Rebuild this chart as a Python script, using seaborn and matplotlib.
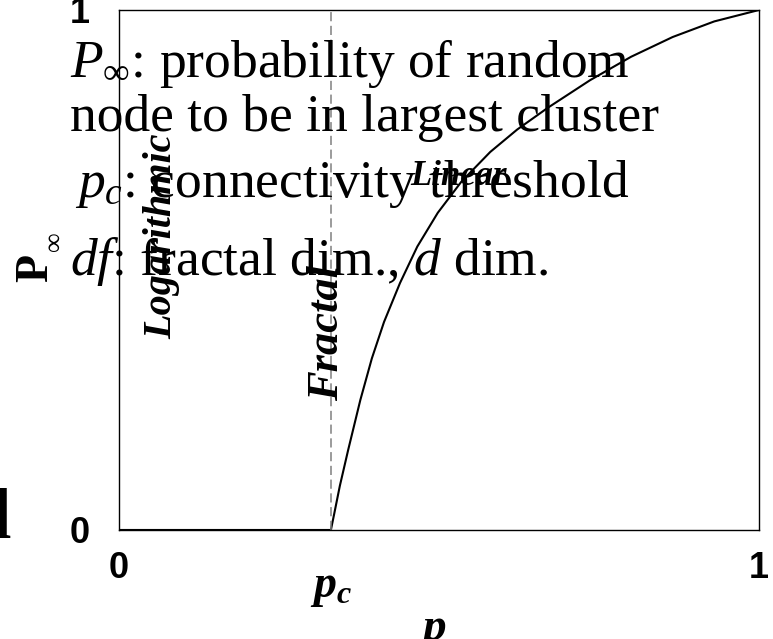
import matplotlib
matplotlib.use("Agg")
import matplotlib.pyplot as plt
import seaborn as sns
import pandas as pd

# Percolation order parameter P_inf versus occupation probability p
pc = 0.331
p_vals = [0.0, 0.331, 0.336, 0.345, 0.358, 0.377, 0.395, 0.414, 0.439, 0.466,
          0.498, 0.535, 0.580, 0.622, 0.670, 0.736, 0.800, 0.865, 0.930, 1.0]
P_vals = [0.0, 0.0, 0.030, 0.085, 0.154, 0.250, 0.330, 0.400, 0.475, 0.545,
          0.610, 0.670, 0.727, 0.770, 0.812, 0.865, 0.910, 0.948, 0.978, 1.0]

x_ticks = [0, 1]
x_tick_labels = ["0", "1"]
y_ticks = [0, 1]
y_tick_labels = ["0", "1"]

legend_lines = [
    r"$P_{\infty}$: probability of random",
    "node to be in largest cluster",
    r"$p_c$: connectivity threshold",
    r"$df$: fractal dim., $d$ dim.",
]
regime_labels = ["Logarithmic", "Fractal", "Linear"]

sns.set_theme(style="white")
plt.rcParams["font.family"] = ["Liberation Serif", "DejaVu Sans"]
plt.rcParams["text.color"] = "black"
plt.rcParams["xtick.color"] = "black"
plt.rcParams["ytick.color"] = "black"
plt.rcParams["mathtext.fontset"] = "custom"
plt.rcParams["mathtext.rm"] = "Liberation Serif"
plt.rcParams["mathtext.it"] = "Liberation Serif:italic"
plt.rcParams["mathtext.bf"] = "Liberation Serif:bold"
plt.rcParams["mathtext.bfit"] = "Liberation Serif:italic:bold"

df = pd.DataFrame({"p": p_vals, "P": P_vals})

fig = plt.figure(figsize=(7.73, 6.39), dpi=100)
ax = fig.add_axes([0.154, 0.1706, 0.828, 0.8138])

sns.lineplot(data=df, x="p", y="P", color="black", linewidth=1.5, ax=ax)
ax.axvline(pc, color="#808080", linestyle=(0, (6, 3)), linewidth=1.1)

ax.set_xlim(0, 1)
ax.set_ylim(0, 1)
for s in ax.spines.values():
    s.set_visible(True)
    s.set_color("black")
    s.set_linewidth(1.0)

ax.set_xticks(x_ticks)
ax.set_xticklabels(x_tick_labels)
ax.set_yticks(y_ticks)
ax.set_yticklabels(y_tick_labels)
ax.tick_params(axis="both", length=0)
ax.tick_params(axis="x", pad=15)
ax.tick_params(axis="y", pad=21)
for lab in ax.get_xticklabels() + ax.get_yticklabels():
    lab.set_fontfamily("Liberation Sans")
    lab.set_fontweight("bold")
    lab.set_fontsize(26)
    lab.set_color("black")
ax.set_xlabel("")
ax.set_ylabel("")

# threshold tick label and axis labels
ax.text(pc, -0.129, r"$\mathbfit{p}_{\mathbfit{c}}$", ha="center", va="baseline",
        fontsize=33, clip_on=False)
ax.text(0.49, -0.212, r"$\mathbfit{p}$", ha="center", va="baseline",
        fontsize=34, clip_on=False)
ax.text((36 - 119) / 640, (530 - 268) / 520, "P", rotation=90, ha="center",
        va="center", fontsize=33, fontweight="bold", clip_on=False)
ax.text((55 - 119) / 640, (530 - 241) / 520, "\u221e", rotation=90, ha="center",
        va="center", fontsize=20, clip_on=False)

# explanatory text block
text_x = [-0.0766, -0.0766, -0.069, -0.0766]
text_y = [0.871, 0.767, 0.640, 0.490]
for s, tx, ty in zip(legend_lines, text_x, text_y):
    ax.text(tx, ty, s, ha="left", va="baseline", fontsize=38.5, color="black",
            clip_on=False)

# regime annotations
ax.text(0.067, 0.565, regime_labels[0], rotation=90, ha="center", va="center",
        fontsize=29, fontweight="bold", fontstyle="italic")
ax.text(0.325, 0.379, regime_labels[1], rotation=90, ha="center", va="center",
        fontsize=32, fontweight="bold", fontstyle="italic")
ax.text(0.455, 0.663, regime_labels[2], ha="left", va="baseline",
        fontsize=25, fontweight="bold", fontstyle="italic")

# stray large glyph at the left margin
fig.text(10 / 773, (639 - 537) / 639, "d", ha="right", va="baseline",
         fontsize=52, fontweight="bold")

fig.savefig("out.png", dpi=100)
